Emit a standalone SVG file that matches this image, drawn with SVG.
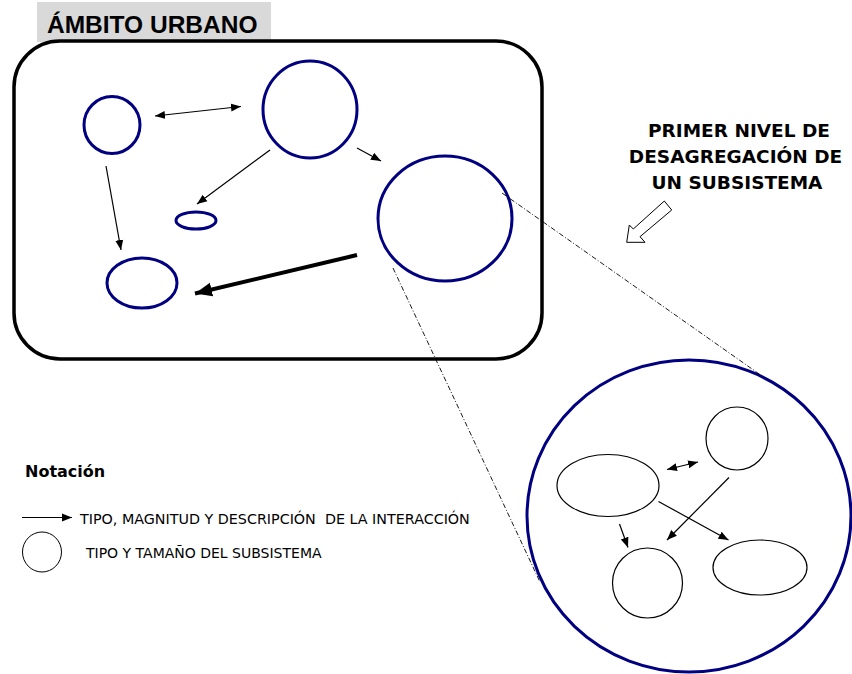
<svg xmlns="http://www.w3.org/2000/svg" width="852" height="674" viewBox="0 0 852 674">
<style>
.sub{fill:none;stroke:#000080;stroke-width:3}
.inner{fill:none;stroke:#000;stroke-width:1.2}
.ln{fill:none;stroke:#000;stroke-width:1.2}
.dd{fill:none;stroke:#000;stroke-width:0.9;stroke-dasharray:5 2 1 2}
.t{font-family:"DejaVu Sans",Verdana,sans-serif;fill:#000}
</style>
<defs>
<marker id="ah" markerUnits="userSpaceOnUse" markerWidth="12" markerHeight="10" refX="10" refY="4" orient="auto-start-reverse" viewBox="0 0 12 8">
<path d="M0,0 L10,4 L0,8 z" fill="#000"/>
</marker>
<marker id="ahb" markerUnits="userSpaceOnUse" markerWidth="20" markerHeight="16" refX="17" refY="7" orient="auto" viewBox="0 0 20 14">
<path d="M0,0 L17,7 L0,14 z" fill="#000"/>
</marker>
</defs>
<rect x="37" y="2" width="234" height="40" fill="#d9d9d9"/>
<text x="47" y="32.5" font-family="'Liberation Sans',Arial,sans-serif" font-weight="bold" font-size="24.5">ÁMBITO URBANO</text>
<rect id="ambito" x="14" y="41" width="528" height="318" rx="46" ry="46" fill="none" stroke="#000" stroke-width="3.5"/>
<g id="s1"><ellipse class="sub" cx="112" cy="125" rx="28" ry="28.5"/></g>
<g id="s2"><ellipse class="sub" cx="310" cy="109.5" rx="47" ry="48.5"/></g>
<g id="s3"><ellipse class="sub" cx="196" cy="220.5" rx="20" ry="8.5"/></g>
<g id="s4"><ellipse class="sub" cx="142" cy="283" rx="35" ry="25"/></g>
<g id="s5"><ellipse class="sub" cx="445" cy="218.5" rx="67" ry="62.5"/></g>
<g id="zoom"><ellipse class="sub" cx="689" cy="516" rx="162" ry="156"/></g>
<g id="z1"><ellipse class="inner" cx="608" cy="485.5" rx="51" ry="31"/></g>
<g id="z2"><ellipse class="inner" cx="737" cy="438.5" rx="31" ry="31.5"/></g>
<g id="z3"><ellipse class="inner" cx="647.5" cy="583" rx="35" ry="35"/></g>
<g id="z4"><ellipse class="inner" cx="760" cy="567.5" rx="47" ry="27.5"/></g>
<g id="connectors">
<line class="ln" x1="155" y1="116" x2="241" y2="106.5" marker-start="url(#ah)" marker-end="url(#ah)"/>
<line class="ln" x1="270" y1="150" x2="197" y2="204" marker-end="url(#ah)"/>
<line class="ln" x1="357" y1="148" x2="381" y2="161" marker-end="url(#ah)"/>
<line class="ln" x1="106" y1="166" x2="121" y2="250" marker-end="url(#ah)"/>
<line x1="357" y1="255" x2="195" y2="293.5" stroke="#000" stroke-width="4" marker-end="url(#ahb)"/>
<line class="dd" x1="502" y1="193" x2="762" y2="376"/>
<line class="dd" x1="393" y1="268" x2="540" y2="582"/>
<line class="ln" x1="667" y1="469.5" x2="698" y2="462" marker-start="url(#ah)" marker-end="url(#ah)"/>
<line class="ln" x1="729" y1="477.5" x2="667" y2="540" marker-end="url(#ah)"/>
<line class="ln" x1="658.5" y1="501.5" x2="728.5" y2="540" marker-end="url(#ah)"/>
<line class="ln" x1="619.5" y1="524" x2="628" y2="547.5" marker-end="url(#ah)"/>
</g>
<polygon points="626.7,242.3 629.3,225 633.3,229 664.3,201 671.7,210 640,236.7 645,242.3" fill="#fff" stroke="#000" stroke-width="1"/>
<g class="t" font-weight="bold" font-size="18.5" text-anchor="middle">
<text x="739" y="136.5">PRIMER NIVEL DE</text>
<text x="735.5" y="162.5">DESAGREGACIÓN DE</text>
<text x="737" y="188.5">UN SUBSISTEMA</text>
</g>
<text class="t" x="25" y="476.5" font-weight="bold" font-size="16">Notación</text>
<line class="ln" x1="22" y1="517.5" x2="72" y2="517.5" marker-end="url(#ah)"/>
<text class="t" x="80" y="523.5" font-size="14.3" xml:space="preserve">TIPO, MAGNITUD Y DESCRIPCIÓN  DE LA INTERACCIÓN</text>
<ellipse cx="42" cy="552" rx="19.5" ry="20" fill="none" stroke="#000" stroke-width="1"/>
<text class="t" x="86" y="558" font-size="14">TIPO Y TAMAÑO DEL SUBSISTEMA</text>
</svg>
